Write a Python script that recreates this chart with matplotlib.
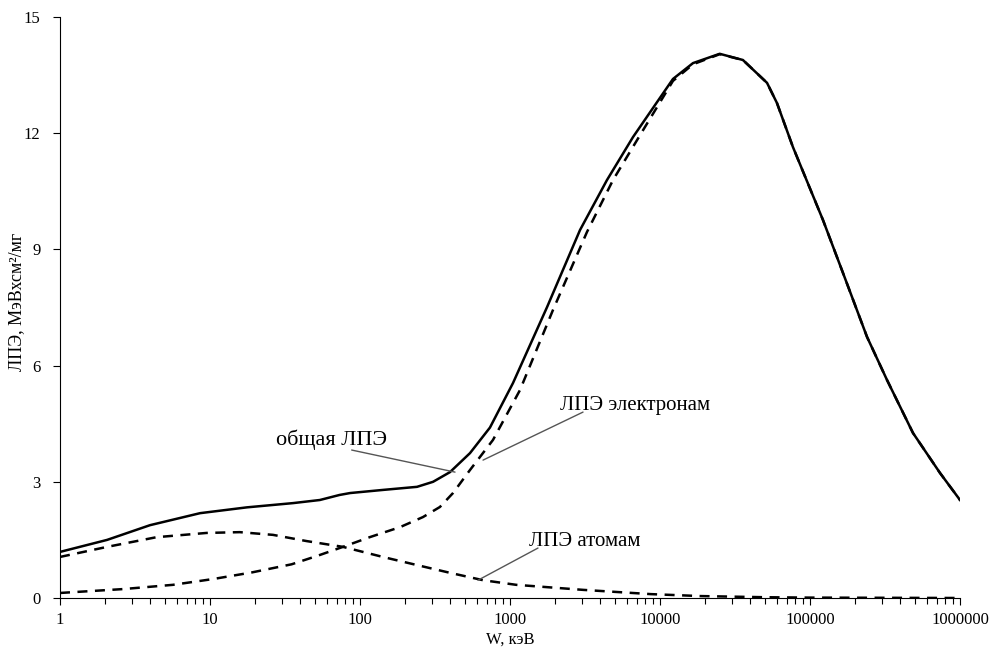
import numpy as np
import matplotlib.pyplot as plt

plt.rcParams['font.family'] = ['Liberation Serif', 'DejaVu Serif']

# W, keV  /  LET, MeV*cm2/mg
w_total = [1, 2.06, 3.98, 8.58, 17.6, 35.8, 54, 73, 86, 142, 240, 307, 398, 541, 735,
           1047, 1766, 2929, 4430, 6607, 12200, 16600, 25000, 35700, 51700,
           60200, 77000, 122000, 166000, 240000, 326000, 486000, 735000, 1000000]
let_total = [1.19, 1.50, 1.88, 2.19, 2.34, 2.45, 2.53, 2.66, 2.71, 2.79, 2.87, 3.00, 3.25,
             3.74, 4.40, 5.55, 7.51, 9.50, 10.79, 11.90, 13.40, 13.81, 14.05,
             13.89, 13.30, 12.78, 11.64, 9.76, 8.39, 6.74, 5.63, 4.26, 3.23, 2.53]

w_el = [1, 2.63, 5.66, 10.5, 19, 35, 53, 77, 116, 185, 263, 341, 417, 540, 770, 1166,
        1936, 3260, 4860, 7360, 12200, 16600, 25000, 35700, 51700, 60200, 77000,
        122000, 166000, 240000, 326000, 486000, 735000, 1000000]
let_el = [0.13, 0.23, 0.34, 0.49, 0.66, 0.87, 1.10, 1.32, 1.57, 1.83, 2.09, 2.35, 2.71,
          3.30, 4.08, 5.37, 7.44, 9.45, 10.79, 11.95, 13.35, 13.78, 14.04, 13.89,
          13.30, 12.78, 11.64, 9.76, 8.39, 6.74, 5.63, 4.26, 3.23, 2.53]

w_at = [1, 2.06, 4.4, 9.5, 15.8, 26.3, 44, 77, 142, 240, 398, 660, 1100, 3070, 8700,
        18500, 50000, 100000, 1000000]
let_at = [1.06, 1.32, 1.57, 1.68, 1.70, 1.63, 1.47, 1.32, 1.06, 0.85, 0.65, 0.46, 0.34,
          0.21, 0.10, 0.05, 0.02, 0.01, 0.0]

fig = plt.figure(figsize=(9.91, 6.49), dpi=100)
ax = fig.add_axes([60/991, 1-598/649, 900/991, 581/649])

ax.plot(w_el, let_el, color='black', lw=1.8, ls=(0, (4, 3)))
ax.plot(w_at, let_at, color='black', lw=1.8, ls=(0, (4, 3)))
ax.plot(w_total, let_total, color='black', lw=1.8)

ax.set_xscale('log')
ax.set_xlim(1, 1e6)
ax.set_ylim(0, 15)
ax.set_yticks([0, 3, 6, 9, 12, 15])
ax.set_xticks([1, 10, 100, 1000, 10000, 100000, 1000000])
ax.set_xticklabels(['1', '10', '100', '1000', '10000', '100000', '1000000'])
ax.tick_params(axis='both', labelsize=12, direction='out', length=5, width=0.8)
ax.tick_params(axis='x', which='minor', length=4, width=0.8)
ax.tick_params(axis='x', pad=5)
ax.tick_params(axis='y', pad=9)
for s in ['top', 'right']:
    ax.spines[s].set_visible(False)

ax.set_xlabel('W, кэВ', fontsize=12)
ax.set_ylabel('ЛПЭ, МэВхсм²/мг', fontsize=13)
ax.xaxis.set_label_coords(0.5, -0.058)
ax.yaxis.set_label_coords(-0.039, 0.51)

lp = dict(arrowstyle='-', color='#555555', lw=1.0, shrinkA=0, shrinkB=0)
ax.annotate('', xy=(430, 3.25), xytext=(88, 3.82), arrowprops=lp)
ax.text(65, 4.08, 'общая ЛПЭ', fontsize=16, ha='center', va='center')
ax.annotate('', xy=(661, 3.56), xytext=(3068, 4.80), arrowprops=lp)
ax.text(6813, 4.98, 'ЛПЭ электронам', fontsize=15, ha='center', va='center')
ax.annotate('', xy=(612, 0.46), xytext=(1537, 1.29), arrowprops=lp)
ax.text(3162, 1.47, 'ЛПЭ атомам', fontsize=15, ha='center', va='center')

fig.savefig('out.png', dpi=100)
